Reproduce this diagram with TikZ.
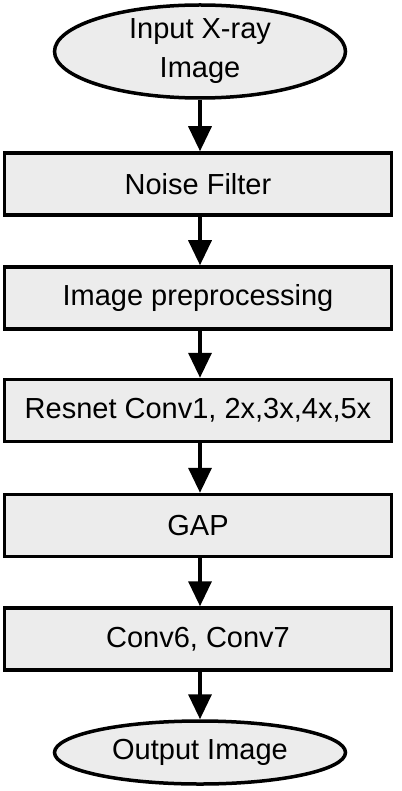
\documentclass[tikz,border=0pt]{standalone}
\usepackage{fontspec}
\setmainfont{Liberation Sans}
\usetikzlibrary{shapes.geometric,arrows.meta}
\definecolor{boxfill}{RGB}{236,236,236}
\tikzset{
  stepbox/.style={draw=black, line width=3.5pt, fill=boxfill, rectangle, minimum width=387pt, minimum height=62pt, inner sep=0pt, font=\fontsize{29}{34}\selectfont},
  termnode/.style={draw=black, line width=3.5pt, fill=boxfill, ellipse, inner sep=0pt, font=\fontsize{29}{39}\selectfont, align=center},
  flow/.style={line width=3.5pt, -{Triangle[length=25pt, width=23pt]}}
}
\begin{document}
\begin{tikzpicture}[x=1pt,y=-1pt]
\useasboundingbox (0,0) rectangle (401,791);
\node[termnode, minimum width=291pt, minimum height=93pt] (in) at (200,51.5) {Input X-ray\\Image};
\node[stepbox] (nf) at (198,184) {Noise Filter};
\node[stepbox] (ip) at (198,298) {Image preprocessing};
\node[stepbox] (rn) at (198,410.5) {Resnet Conv1, 2x,3x,4x,5x};
\node[stepbox] (gap) at (198,525.5) {GAP};
\node[stepbox] (cv) at (198,639) {Conv6, Conv7};
\node[termnode, minimum width=291pt, minimum height=63pt] (out) at (200,752.5) {Output Image};
\draw[flow] (in.south) -- (in.south |- nf.north);
\draw[flow] (nf.south -| in.south) -- (in.south |- ip.north);
\draw[flow] (ip.south -| in.south) -- (in.south |- rn.north);
\draw[flow] (rn.south -| in.south) -- (in.south |- gap.north);
\draw[flow] (gap.south -| in.south) -- (in.south |- cv.north);
\draw[flow] (cv.south -| in.south) -- (out.north);
\end{tikzpicture}
\end{document}
